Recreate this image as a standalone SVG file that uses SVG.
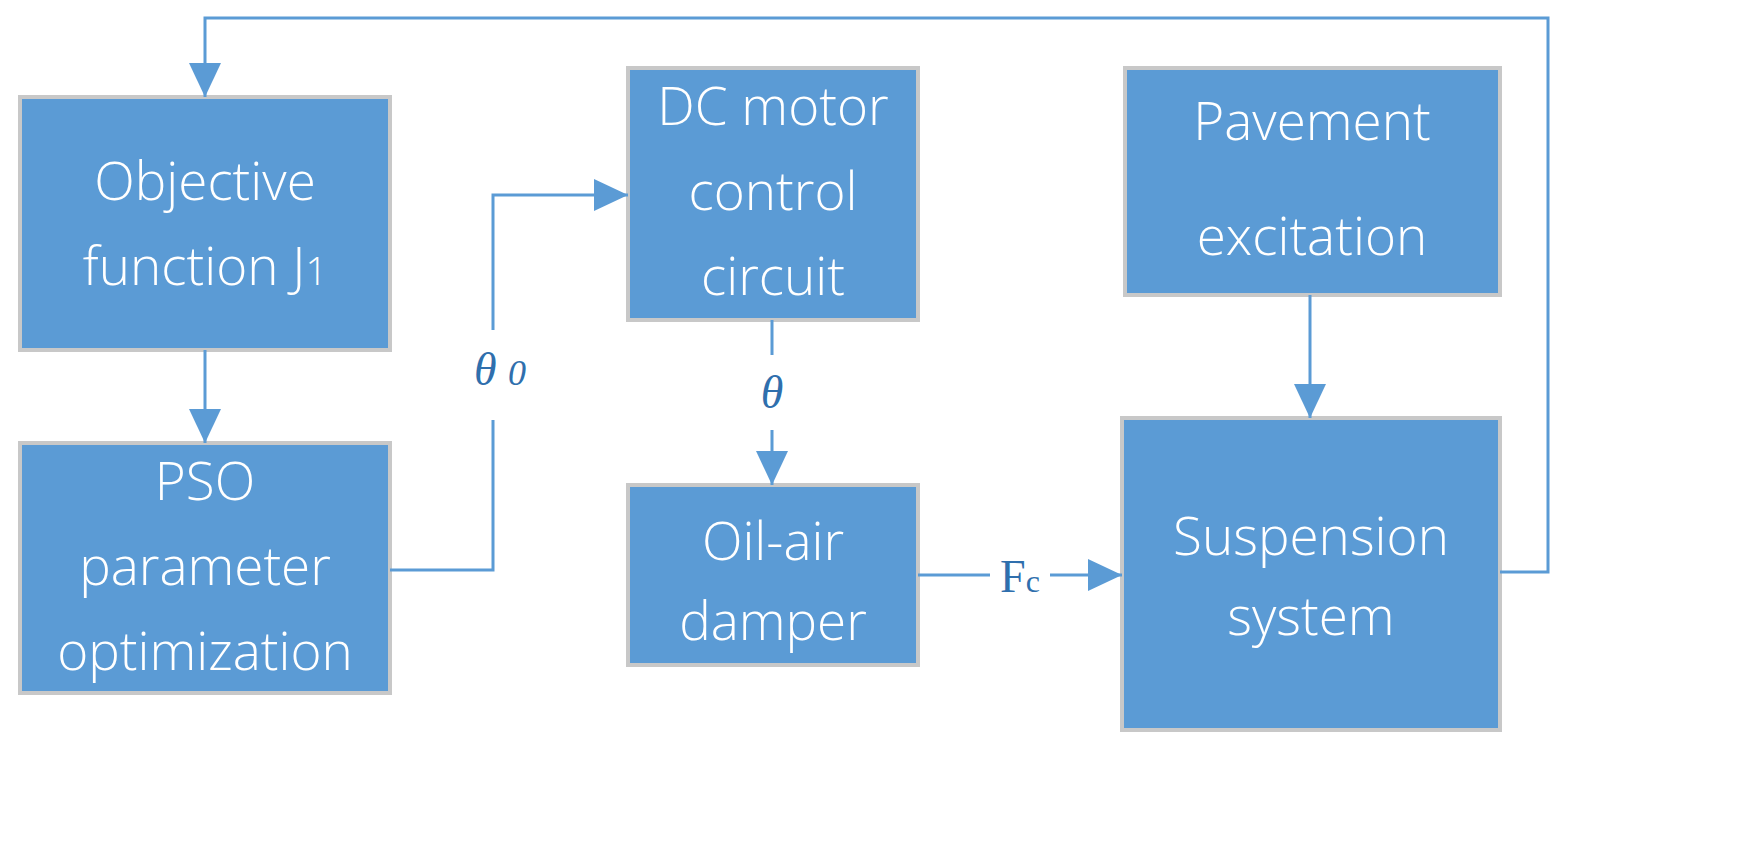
<svg xmlns="http://www.w3.org/2000/svg" width="1748" height="857" viewBox="0 0 1748 857">
<style>
.n{fill:#5b9bd5;stroke:#c8c8c8;stroke-width:4}
.t{font-family:"Open Sans","Liberation Sans",sans-serif;font-weight:300;font-size:53px;fill:#fff;text-anchor:middle}
.c{fill:none;stroke:#5b9bd5;stroke-width:3}
.l{font-family:"Liberation Serif",serif;font-style:italic;font-size:46px;fill:#2f6fad;text-anchor:middle}
</style>
<defs>
<marker id="a" markerUnits="userSpaceOnUse" markerWidth="40" markerHeight="40" refX="34" refY="16" orient="auto" viewBox="0 0 40 32">
<path d="M0,0 L34,16 L0,32 Z" fill="#5b9bd5"/>
</marker>
</defs>
<rect width="1748" height="857" fill="#fff"/>
<g id="objective"><rect class="n" x="20" y="97" width="370" height="253"/>
<text class="t" x="205" y="200">Objective</text><text class="t" x="205" y="285">function J<tspan font-size="38">1</tspan></text></g>
<g id="pso"><rect class="n" x="20" y="443" width="370" height="250"/>
<text class="t" x="205" y="500">PSO</text><text class="t" x="205" y="585">parameter</text><text class="t" x="205" y="670">optimization</text></g>
<g id="dc"><rect class="n" x="628" y="68" width="290" height="252"/>
<text class="t" x="773" y="125">DC motor</text><text class="t" x="773" y="210">control</text><text class="t" x="773" y="295">circuit</text></g>
<g id="oil"><rect class="n" x="628" y="485" width="290" height="180"/>
<text class="t" x="773" y="560">Oil-air</text><text class="t" x="773" y="640">damper</text></g>
<g id="pavement"><rect class="n" x="1125" y="68" width="375" height="227"/>
<text class="t" x="1312" y="140">Pavement</text><text class="t" x="1312" y="255">excitation</text></g>
<g id="suspension"><rect class="n" x="1122" y="418" width="378" height="312"/>
<text class="t" x="1311" y="555">Suspension</text><text class="t" x="1311" y="635">system</text></g>
<g id="connectors">
<path class="c" d="M1500,572 H1548 V18 H205 V97" marker-end="url(#a)"/>
<path class="c" d="M205,350 V443" marker-end="url(#a)"/>
<path class="c" d="M390,570 H493 V420 M493,330 V195 H628" marker-end="url(#a)"/>
<path class="c" d="M772,320 V355 M772,430 V485" marker-end="url(#a)"/>
<path class="c" d="M918,575 H990 M1050,575 H1122" marker-end="url(#a)"/>
<path class="c" d="M1310,295 V418" marker-end="url(#a)"/>
<text class="l" x="500" y="385">θ <tspan font-size="36">0</tspan></text>
<text class="l" x="772" y="408">θ</text>
<text x="1020" y="592" font-family="Liberation Serif,serif" font-size="46" fill="#2f6fad" text-anchor="middle">F<tspan font-size="32">c</tspan></text>
</g>
</svg>
